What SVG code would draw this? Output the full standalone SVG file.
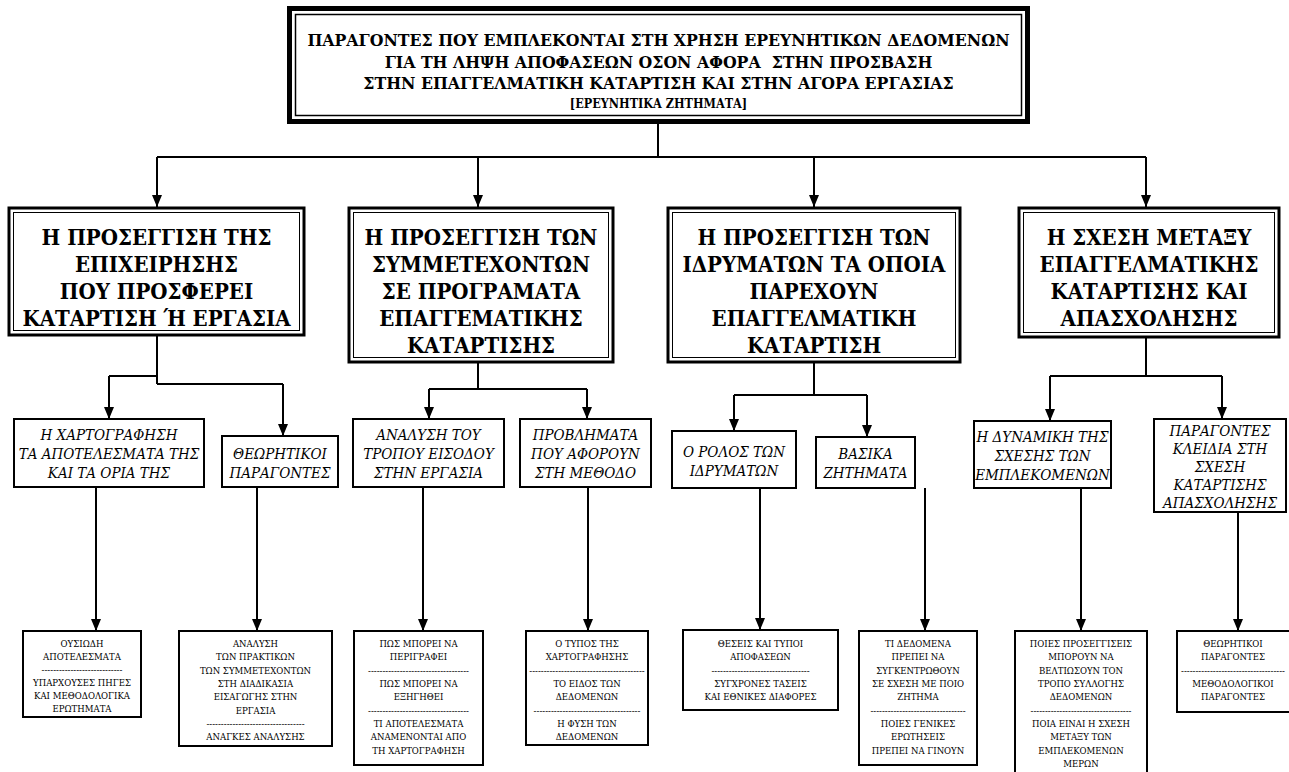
<svg xmlns="http://www.w3.org/2000/svg" width="1289" height="772" viewBox="0 0 1289 772">
<defs>
<style>
text{font-family:"DejaVu Serif","Liberation Serif",serif;font-stretch:condensed;text-anchor:middle;fill:#000}
.t1{font-weight:bold;font-size:17.5px}
.t1s{font-weight:bold;font-size:12.5px}
.t2{font-weight:bold;font-size:22px}
.t3{font-style:italic;font-size:15px}
.t4{font-size:9.5px}
.pre{white-space:pre}
.ln{stroke:#000;stroke-width:2;fill:none}
.ar{stroke:#000;stroke-width:2;fill:none;marker-end:url(#ah)}
.b2o{fill:#fff;stroke:#000;stroke-width:3}
.b2i{fill:none;stroke:#000;stroke-width:1}
.b3{fill:#fff;stroke:#000;stroke-width:2}
.b4{fill:#fff;stroke:#000;stroke-width:2}
</style>
<marker id="ah" viewBox="0 0 12 10" refX="12" refY="5" markerWidth="12" markerHeight="10" markerUnits="userSpaceOnUse" orient="auto">
<path d="M0,0 L12,5 L0,10 z" fill="#000"/>
</marker>
</defs>
<rect width="1289" height="772" fill="#fff"/>

<g id="connectors">
<path class="ln" d="M658,124 V157 M157,157 H1146"/>
<path class="ar" d="M157,157 V207"/>
<path class="ar" d="M478,157 V207"/>
<path class="ar" d="M814,157 V207"/>
<path class="ar" d="M1146,157 V207"/>
<path class="ln" d="M157,335 V384 M109,376 H157 M157,384 H283"/>
<path class="ar" d="M109,376 V419"/>
<path class="ar" d="M283,384 V436"/>
<path class="ln" d="M478,362 V389 M429,389 H587"/>
<path class="ar" d="M429,389 V419"/>
<path class="ar" d="M587,389 V419"/>
<path class="ln" d="M814,362 V395 M734,395 H867"/>
<path class="ar" d="M734,395 V431"/>
<path class="ar" d="M867,395 V437"/>
<path class="ln" d="M1146,337 V376 M1050,376 H1222"/>
<path class="ar" d="M1050,376 V421"/>
<path class="ar" d="M1222,376 V419"/>
<path class="ar" d="M96,487 V631"/>
<path class="ar" d="M257,487 V631"/>
<path class="ar" d="M423,487 V631"/>
<path class="ar" d="M588,487 V631"/>
<path class="ar" d="M760,488 V630"/>
<path class="ar" d="M925,488 V631"/>
<path class="ar" d="M1081,488 V631"/>
<path class="ar" d="M1238,512 V631"/>
</g>

<g id="root">
<rect x="287" y="6" width="743" height="118" fill="#000"/>
<rect x="292" y="11" width="733" height="108" fill="#fff"/>
<rect x="295.5" y="14.5" width="726" height="101" fill="none" stroke="#000" stroke-width="1.5"/>
<text class="t1" x="658.5" y="46">ΠΑΡΑΓΟΝΤΕΣ ΠΟΥ ΕΜΠΛΕΚΟΝΤΑΙ ΣΤΗ ΧΡΗΣΗ ΕΡΕΥΝΗΤΙΚΩΝ ΔΕΔΟΜΕΝΩΝ</text>
<text class="t1 pre" x="658.5" y="68">ΓΙΑ ΤΗ ΛΗΨΗ ΑΠΟΦΑΣΕΩΝ ΟΣΟΝ ΑΦΟΡΑ  ΣΤΗΝ ΠΡΟΣΒΑΣΗ</text>
<text class="t1" x="658.5" y="89">ΣΤΗΝ ΕΠΑΓΓΕΛΜΑΤΙΚΗ ΚΑΤΑΡΤΙΣΗ ΚΑΙ ΣΤΗΝ ΑΓΟΡΑ ΕΡΓΑΣΙΑΣ</text>
<text class="t1s" x="658.5" y="108">[ΕΡΕΥΝΗΤΙΚΑ ΖΗΤΗΜΑΤΑ]</text>
</g>

<g id="n-epixeirisi">
<rect class="b2o" x="9" y="208" width="295" height="127"/>
<rect class="b2i" x="13.5" y="212.5" width="286" height="118"/>
<text class="t2" x="156.5" y="245">Η ΠΡΟΣΕΓΓΙΣΗ ΤΗΣ</text>
<text class="t2" x="156.5" y="272">ΕΠΙΧΕΙΡΗΣΗΣ</text>
<text class="t2" x="156.5" y="299">ΠΟΥ ΠΡΟΣΦΕΡΕΙ</text>
<text class="t2" x="156.5" y="326">ΚΑΤΑΡΤΙΣΗ Ή ΕΡΓΑΣΙΑ</text>
</g>

<g id="n-symmetexontes">
<rect class="b2o" x="349" y="208" width="264" height="154"/>
<rect class="b2i" x="353.5" y="212.5" width="255" height="145"/>
<text class="t2" x="481" y="245">Η ΠΡΟΣΕΓΓΙΣΗ ΤΩΝ</text>
<text class="t2" x="481" y="272">ΣΥΜΜΕΤΕΧΟΝΤΩΝ</text>
<text class="t2" x="481" y="299">ΣΕ ΠΡΟΓΡΑΜΑΤΑ</text>
<text class="t2" x="481" y="326">ΕΠΑΓΓΕΜΑΤΙΚΗΣ</text>
<text class="t2" x="481" y="353">ΚΑΤΑΡΤΙΣΗΣ</text>
</g>

<g id="n-idrymata">
<rect class="b2o" x="668" y="208" width="292" height="154"/>
<rect class="b2i" x="672.5" y="212.5" width="283" height="145"/>
<text class="t2" x="814" y="245">Η ΠΡΟΣΕΓΓΙΣΗ ΤΩΝ</text>
<text class="t2" x="814" y="272">ΙΔΡΥΜΑΤΩΝ ΤΑ ΟΠΟΙΑ</text>
<text class="t2" x="814" y="299">ΠΑΡΕΧΟΥΝ</text>
<text class="t2" x="814" y="326">ΕΠΑΓΓΕΛΜΑΤΙΚΗ</text>
<text class="t2" x="814" y="353">ΚΑΤΑΡΤΙΣΗ</text>
</g>

<g id="n-sxesi">
<rect class="b2o" x="1019" y="208" width="260" height="129"/>
<rect class="b2i" x="1023.5" y="212.5" width="251" height="120"/>
<text class="t2" x="1149" y="245">Η ΣΧΕΣΗ ΜΕΤΑΞΥ</text>
<text class="t2" x="1149" y="272">ΕΠΑΓΓΕΛΜΑΤΙΚΗΣ</text>
<text class="t2" x="1149" y="299">ΚΑΤΑΡΤΙΣΗΣ ΚΑΙ</text>
<text class="t2" x="1149" y="326">ΑΠΑΣΧΟΛΗΣΗΣ</text>
</g>

<g id="n-xartografisi">
<rect class="b3" x="14" y="419" width="190" height="68"/>
<text class="t3" x="109" y="440">Η ΧΑΡΤΟΓΡΑΦΗΣΗ</text>
<text class="t3" x="109" y="459">ΤΑ ΑΠΟΤΕΛΕΣΜΑΤΑ ΤΗΣ</text>
<text class="t3" x="109" y="478">ΚΑΙ ΤΑ ΟΡΙΑ ΤΗΣ</text>
</g>
<g id="n-theoritikoi">
<rect class="b3" x="222" y="436" width="116" height="51"/>
<text class="t3" x="280" y="459">ΘΕΩΡΗΤΙΚΟΙ</text>
<text class="t3" x="280" y="478">ΠΑΡΑΓΟΝΤΕΣ</text>
</g>
<g id="n-analysi">
<rect class="b3" x="353" y="419" width="151" height="68"/>
<text class="t3" x="428.5" y="440">ΑΝΑΛΥΣΗ ΤΟΥ</text>
<text class="t3" x="428.5" y="459">ΤΡΟΠΟΥ ΕΙΣΟΔΟΥ</text>
<text class="t3" x="428.5" y="478">ΣΤΗΝ ΕΡΓΑΣΙΑ</text>
</g>
<g id="n-provlimata">
<rect class="b3" x="520" y="419" width="131" height="68"/>
<text class="t3" x="585.5" y="440">ΠΡΟΒΛΗΜΑΤΑ</text>
<text class="t3" x="585.5" y="459">ΠΟΥ ΑΦΟΡΟΥΝ</text>
<text class="t3" x="585.5" y="478">ΣΤΗ ΜΕΘΟΔΟ</text>
</g>
<g id="n-rolos">
<rect class="b3" x="672" y="431" width="124" height="57"/>
<text class="t3" x="734" y="457">Ο ΡΟΛΟΣ ΤΩΝ</text>
<text class="t3" x="734" y="476">ΙΔΡΥΜΑΤΩΝ</text>
</g>
<g id="n-vasika">
<rect class="b3" x="816" y="437" width="99" height="51"/>
<text class="t3" x="865.5" y="459">ΒΑΣΙΚΑ</text>
<text class="t3" x="865.5" y="478">ΖΗΤΗΜΑΤΑ</text>
</g>
<g id="n-dynamiki">
<rect class="b3" x="974" y="421" width="137" height="67"/>
<text class="t3" x="1042.5" y="442">Η ΔΥΝΑΜΙΚΗ ΤΗΣ</text>
<text class="t3" x="1042.5" y="461">ΣΧΕΣΗΣ ΤΩΝ</text>
<text class="t3" x="1042.5" y="480">ΕΜΠΛΕΚΟΜΕΝΩΝ</text>
</g>
<g id="n-kleidia">
<rect class="b3" x="1154" y="419" width="132" height="93"/>
<text class="t3" x="1220" y="436">ΠΑΡΑΓΟΝΤΕΣ</text>
<text class="t3" x="1220" y="454">ΚΛΕΙΔΙΑ ΣΤΗ</text>
<text class="t3" x="1220" y="472">ΣΧΕΣΗ</text>
<text class="t3" x="1220" y="490">ΚΑΤΑΡΤΙΣΗΣ</text>
<text class="t3" x="1220" y="508">ΑΠΑΣΧΟΛΗΣΗΣ</text>
</g>

<g id="n-ousiodi">
<rect class="b4" x="23" y="631" width="118" height="86"/>
<text class="t4" x="82" y="647">ΟΥΣΙΩΔΗ</text>
<text class="t4" x="82" y="660">ΑΠΟΤΕΛΕΣΜΑΤΑ</text>
<text class="t4" x="82" y="673">----------------------------</text>
<text class="t4" x="82" y="686">ΥΠΑΡΧΟΥΣΕΣ ΠΗΓΕΣ</text>
<text class="t4" x="82" y="699">ΚΑΙ ΜΕΘΟΔΟΛΟΓΙΚΑ</text>
<text class="t4" x="82" y="712">ΕΡΩΤΗΜΑΤΑ</text>
</g>
<g id="n-praktikes">
<rect class="b4" x="179" y="631" width="153" height="115"/>
<text class="t4" x="255.5" y="647">ΑΝΑΛΥΣΗ</text>
<text class="t4" x="255.5" y="660.3">ΤΩΝ ΠΡΑΚΤΙΚΩΝ</text>
<text class="t4" x="255.5" y="673.6">ΤΩΝ ΣΥΜΜΕΤΕΧΟΝΤΩΝ</text>
<text class="t4" x="255.5" y="687">ΣΤΗ ΔΙΑΔΙΚΑΣΙΑ</text>
<text class="t4" x="255.5" y="700.3">ΕΙΣΑΓΩΓΗΣ ΣΤΗΝ</text>
<text class="t4" x="255.5" y="713.6">ΕΡΓΑΣΙΑ</text>
<text class="t4" x="255.5" y="727">----------------------------------</text>
<text class="t4" x="255.5" y="740.3">ΑΝΑΓΚΕΣ ΑΝΑΛΥΣΗΣ</text>
</g>
<g id="n-pos">
<rect class="b4" x="354" y="631" width="129" height="134"/>
<text class="t4" x="418.5" y="647">ΠΩΣ ΜΠΟΡΕΙ ΝΑ</text>
<text class="t4" x="418.5" y="660.3">ΠΕΡΙΓΡΑΦΕΙ</text>
<text class="t4" x="418.5" y="673.6">-----------------------------------</text>
<text class="t4" x="418.5" y="687">ΠΩΣ ΜΠΟΡΕΙ ΝΑ</text>
<text class="t4" x="418.5" y="700.3">ΕΞΗΓΗΘΕΙ</text>
<text class="t4" x="418.5" y="713.6">-----------------------------------</text>
<text class="t4" x="418.5" y="727">ΤΙ ΑΠΟΤΕΛΕΣΜΑΤΑ</text>
<text class="t4" x="418.5" y="740.3">ΑΝΑΜΕΝΟΝΤΑΙ ΑΠΟ</text>
<text class="t4" x="418.5" y="753.6">ΤΗ ΧΑΡΤΟΓΡΑΦΗΣΗ</text>
</g>
<g id="n-typos">
<rect class="b4" x="526" y="631" width="122" height="114"/>
<text class="t4" x="587" y="647">Ο ΤΥΠΟΣ ΤΗΣ</text>
<text class="t4" x="587" y="660.3">ΧΑΡΤΟΓΡΑΦΗΣΗΣ</text>
<text class="t4" x="587" y="673.6">----------------------------------------</text>
<text class="t4" x="587" y="687">ΤΟ ΕΙΔΟΣ ΤΩΝ</text>
<text class="t4" x="587" y="700.3">ΔΕΔΟΜΕΝΩΝ</text>
<text class="t4" x="587" y="713.6">-------------------------------------</text>
<text class="t4" x="587" y="727">Η ΦΥΣΗ ΤΩΝ</text>
<text class="t4" x="587" y="740.3">ΔΕΔΟΜΕΝΩΝ</text>
</g>
<g id="n-theseis">
<rect class="b4" x="683" y="630" width="155" height="80"/>
<text class="t4" x="760.5" y="647">ΘΕΣΕΙΣ ΚΑΙ ΤΥΠΟΙ</text>
<text class="t4" x="760.5" y="660.3">ΑΠΟΦΑΣΕΩΝ</text>
<text class="t4" x="760.5" y="673.6">----------------------------------</text>
<text class="t4" x="760.5" y="687">ΣΥΓΧΡΟΝΕΣ ΤΑΣΕΙΣ</text>
<text class="t4" x="760.5" y="700.3">ΚΑΙ ΕΘΝΙΚΕΣ ΔΙΑΦΟΡΕΣ</text>
</g>
<g id="n-dedomena">
<rect class="b4" x="859" y="631" width="118" height="134"/>
<text class="t4" x="918" y="647">ΤΙ ΔΕΔΟΜΕΝΑ</text>
<text class="t4" x="918" y="660.3">ΠΡΕΠΕΙ ΝΑ</text>
<text class="t4" x="918" y="673.6">ΣΥΓΚΕΝΤΡΩΘΟΥΝ</text>
<text class="t4" x="918" y="687">ΣΕ ΣΧΕΣΗ ΜΕ ΠΟΙΟ</text>
<text class="t4" x="918" y="700.3">ΖΗΤΗΜΑ</text>
<text class="t4" x="918" y="713.6">---------------------------------</text>
<text class="t4" x="918" y="727">ΠΟΙΕΣ ΓΕΝΙΚΕΣ</text>
<text class="t4" x="918" y="740.3">ΕΡΩΤΗΣΕΙΣ</text>
<text class="t4" x="918" y="753.6">ΠΡΕΠΕΙ ΝΑ ΓΙΝΟΥΝ</text>
</g>
<g id="n-proseggiseis">
<rect class="b4" x="1015" y="631" width="132" height="146"/>
<text class="t4" x="1081" y="647">ΠΟΙΕΣ ΠΡΟΣΕΓΓΙΣΕΙΣ</text>
<text class="t4" x="1081" y="660.3">ΜΠΟΡΟΥΝ ΝΑ</text>
<text class="t4" x="1081" y="673.6">ΒΕΛΤΙΩΣΟΥΝ ΤΟΝ</text>
<text class="t4" x="1081" y="687">ΤΡΟΠΟ ΣΥΛΛΟΓΗΣ</text>
<text class="t4" x="1081" y="700.3">ΔΕΔΟΜΕΝΩΝ</text>
<text class="t4" x="1081" y="713.6">-----------------------------------</text>
<text class="t4" x="1081" y="727">ΠΟΙΑ ΕΙΝΑΙ Η ΣΧΕΣΗ</text>
<text class="t4" x="1081" y="740.3">ΜΕΤΑΞΥ ΤΩΝ</text>
<text class="t4" x="1081" y="753.6">ΕΜΠΛΕΚΟΜΕΝΩΝ</text>
<text class="t4" x="1081" y="767">ΜΕΡΩΝ</text>
</g>
<g id="n-theoritikoi2">
<rect class="b4" x="1177" y="631" width="113" height="81"/>
<text class="t4" x="1233" y="647">ΘΕΩΡΗΤΙΚΟΙ</text>
<text class="t4" x="1233" y="660.3">ΠΑΡΑΓΟΝΤΕΣ</text>
<text class="t4" x="1233" y="673.6">------------------------------------</text>
<text class="t4" x="1233" y="687">ΜΕΘΟΔΟΛΟΓΙΚΟΙ</text>
<text class="t4" x="1233" y="700.3">ΠΑΡΑΓΟΝΤΕΣ</text>
</g>
</svg>
